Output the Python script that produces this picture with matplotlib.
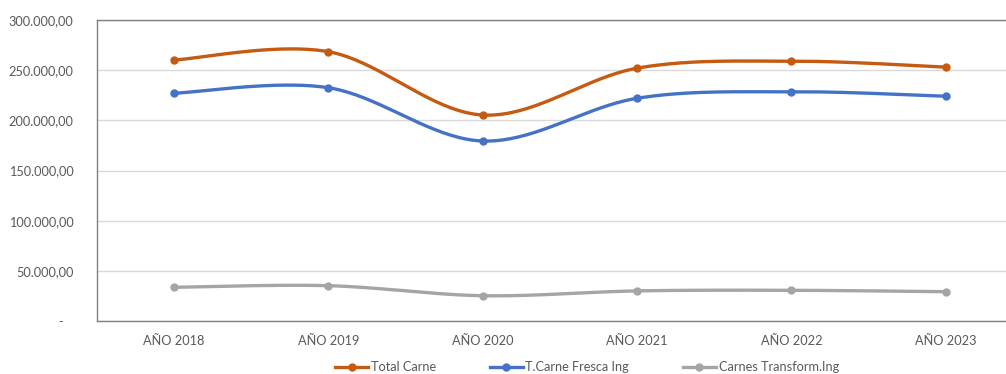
import matplotlib
matplotlib.use("Agg")
import matplotlib.pyplot as plt
import numpy as np
from matplotlib.ticker import FuncFormatter

anios = ["AÑO 2018", "AÑO 2019", "AÑO 2020", "AÑO 2021", "AÑO 2022", "AÑO 2023"]
total_carne = [260100, 268400, 205300, 252000, 259000, 253000]
carne_fresca = [227000, 232500, 179400, 222000, 228500, 224000]
carnes_transform = [33600, 35200, 25200, 30000, 30600, 29200]

series = [
    ("Total Carne", total_carne, "#C55A11"),
    ("T.Carne Fresca Ing", carne_fresca, "#4472C4"),
    ("Carnes Transform.Ing", carnes_transform, "#A5A5A5"),
]


def suavizar(x, y, n=40):
    # courbe lissée facon Excel (Catmull-Rom)
    x = np.asarray(x, float)
    y = np.asarray(y, float)
    px = np.concatenate([[x[0]], x, [x[-1]]])
    py = np.concatenate([[y[0]], y, [y[-1]]])
    xs, ys = [], []
    t = np.linspace(0, 1, n)
    for i in range(1, len(px) - 2):
        p0 = np.array([px[i], py[i]])
        p3 = np.array([px[i + 1], py[i + 1]])
        c1 = p0 + (np.array([px[i + 1], py[i + 1]]) - np.array([px[i - 1], py[i - 1]])) / 6
        c2 = p3 - (np.array([px[i + 2], py[i + 2]]) - np.array([px[i], py[i]])) / 6
        b = ((1 - t) ** 3)[:, None] * p0 + (3 * (1 - t) ** 2 * t)[:, None] * c1 \
            + (3 * (1 - t) * t ** 2)[:, None] * c2 + (t ** 3)[:, None] * p3
        xs.extend(b[:, 0])
        ys.extend(b[:, 1])
    return xs, ys


def fmt(v, pos):
    if v == 0:
        return "-   "
    return "{:,.2f}".format(v).replace(",", "X").replace(".", ",").replace("X", ".")


plt.rcParams['font.family'] = ['Lato', 'DejaVu Sans']

fig = plt.figure(figsize=(10.06, 3.74), dpi=100)
ax = fig.add_axes([97 / 1006, 1 - 321 / 374, 1 - 97 / 1006, 301 / 374])

x = np.arange(len(anios))
for nom, valeurs, couleur in series:
    xs, ys = suavizar(x, valeurs)
    ax.plot(xs, ys, color=couleur, lw=2.4, solid_capstyle="round", zorder=3)
    ax.plot(x, valeurs, "o", color=couleur, ms=5, zorder=4)
    ax.plot([], [], color=couleur, lw=2.4, marker="o", ms=5, label=nom)

ax.set_xlim(-0.5, 5.39)
ax.set_ylim(0, 300000)
ax.set_yticks(np.arange(0, 300001, 50000))
ax.yaxis.set_major_formatter(FuncFormatter(fmt))
ax.set_xticks(x)
ax.set_xticklabels(anios)
ax.grid(axis="y", color="#D9D9D9", lw=1)
ax.set_axisbelow(True)
ax.tick_params(length=0, labelsize=9.2, colors="#595959")
ax.tick_params(axis="y", pad=17)
ax.tick_params(axis="x", pad=10)
for s in ["left", "bottom", "top"]:
    ax.spines[s].set_color("#808080")
    ax.spines[s].set_linewidth(1)
ax.spines["right"].set_visible(False)

fig.legend(loc="center", bbox_to_anchor=(587 / 1006, 1 - 367 / 374), ncol=3, frameon=False,
           fontsize=9.2, labelcolor="#595959", handlelength=2.6, handletextpad=0.2,
           columnspacing=4.2)

fig.savefig("out.png", dpi=100)
